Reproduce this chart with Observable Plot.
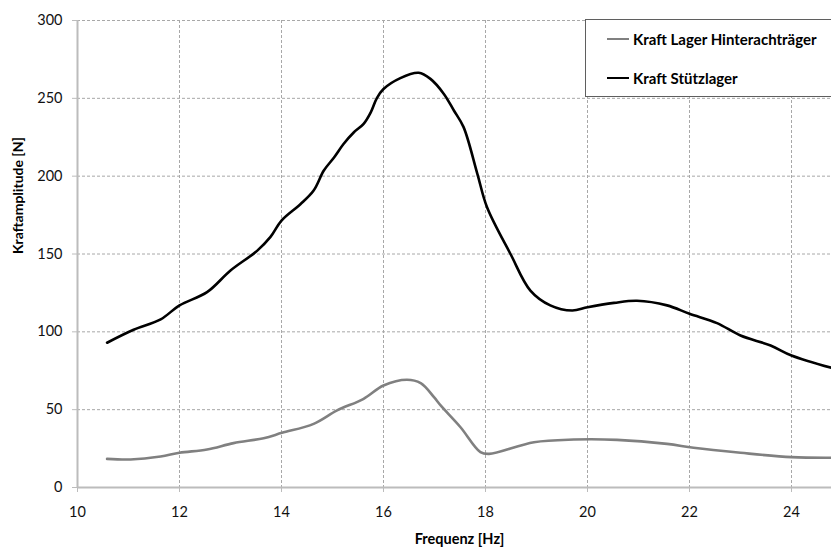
<!DOCTYPE html>
<html>
<head>
<meta charset="utf-8">
<script src="https://cdn.jsdelivr.net/npm/d3@7"></script>
<script src="https://cdn.jsdelivr.net/npm/@observablehq/plot@0.6"></script>
<style>
  html, body { margin: 0; padding: 0; background: #fff; overflow: hidden; }
  #chart { position: relative; width: 831px; height: 552px; font-family: Lato, "Open Sans", sans-serif; }
  #chart svg { display: block; }
  .legend {
    position: absolute; left: 585px; top: 19px; width: 270px; height: 78px;
    box-sizing: border-box; border: 1px solid #5f5f5f; background: #fff;
    font: bold 15px Lato, "Open Sans", sans-serif; color: #000;
  }
  .legend .item { position: absolute; left: 21px; height: 18px; display: flex; align-items: center; }
  .legend .swatch { width: 22px; height: 0; margin-right: 4px; }
</style>
</head>
<body>
<div id="chart"></div>
<script>
// Frequency sweep: force amplitude at the two bearings
const freqStuetz = [10.58, 11.10, 11.63, 12.0, 12.54, 13.0, 13.52, 13.78, 14.0, 14.37, 14.63, 14.83, 15.03, 15.22, 15.42, 15.61, 15.75, 15.87, 16.0, 16.33, 16.69, 16.92, 17.18, 17.38, 17.57, 17.84, 18.03, 18.49, 18.88, 19.27, 19.70, 20.0, 20.52, 20.97, 21.56, 22.0, 22.54, 23.0, 23.59, 24.0, 24.78];
const kraftStuetz = [93, 101.3, 108, 117, 125.5, 139.4, 152, 160.8, 171.5, 182, 190.8, 203.6, 212, 220.8, 228.2, 233.6, 241, 250.2, 256, 263, 266.4, 262.5, 253, 242.2, 231.5, 201.5, 180, 150, 126.5, 117, 113.7, 115.8, 118.6, 120, 117, 111.6, 105.6, 97.6, 91.2, 84.8, 76.9];

const freqHinter = [10.58, 11.04, 11.63, 12.0, 12.54, 13.06, 13.65, 14.01, 14.63, 15.09, 15.61, 16.0, 16.46, 16.73, 16.99, 17.12, 17.51, 17.90, 18.07, 18.95, 19.73, 20.58, 21.56, 22.08, 23.0, 24.0, 24.76];
const kraftHinter = [18.4, 18, 19.9, 22.3, 24.4, 28.5, 31.7, 35.1, 40.9, 49.5, 57, 65.5, 69.2, 67, 58, 52.7, 38.7, 22.7, 21.6, 29.1, 30.8, 30.6, 28, 25.5, 22.3, 19.5, 19.1];

const seriesNames = ["Kraft Lager Hinterachträger", "Kraft Stützlager"];
const seriesColors = ["#808080", "#000000"];

const xTicks = [10, 12, 14, 16, 18, 20, 22, 24];
const yTicks = [0, 50, 100, 150, 200, 250, 300];
const xLabel = "Frequenz [Hz]";
const yLabel = "Kraftamplitude [N]";

const hinter = freqHinter.map((f, i) => ({f, v: kraftHinter[i]}));
const stuetz = freqStuetz.map((f, i) => ({f, v: kraftStuetz[i]}));

const gridStyle = {stroke: "#a8a8a8", strokeOpacity: 1, strokeDasharray: "3,2"};
const axisColor = "#bcbcbc";

const chart = Plot.plot({
  width: 831,
  height: 552,
  marginLeft: 77,
  marginRight: 0,
  marginTop: 20,
  marginBottom: 65,
  style: {fontFamily: "Lato, 'Open Sans', sans-serif", fontSize: "14px", color: "#111", background: "#fff"},
  x: {domain: [10, 24.784]},
  y: {domain: [0, 300]},
  marks: [
    Plot.gridX(xTicks.slice(1), gridStyle),
    Plot.gridY(yTicks.slice(1), gridStyle),
    Plot.ruleX([xTicks[0]], {stroke: axisColor, strokeWidth: 2}),
    Plot.ruleY([yTicks[0]], {stroke: axisColor, strokeWidth: 2}),
    Plot.axisX(xTicks, {tickSize: 5, tickPadding: 14, label: null, stroke: axisColor, fontSize: 14.5}),
    Plot.axisY(yTicks, {tickSize: 5, tickPadding: 10, label: null, stroke: axisColor, fontSize: 14.5}),
    Plot.line(hinter, {x: "f", y: "v", stroke: seriesColors[0], strokeWidth: 2.6, curve: "catmull-rom"}),
    Plot.line(stuetz, {x: "f", y: "v", stroke: seriesColors[1], strokeWidth: 2.6, curve: "catmull-rom"}),
    Plot.text([xLabel], {frameAnchor: "bottom", dx: 5, dy: 56, fontWeight: "bold", fontSize: 14.5, fill: "#000"}),
    Plot.text([yLabel], {frameAnchor: "left", dx: -59, rotate: -90, fontWeight: "bold", fontSize: 14, fill: "#000"})
  ]
});

const host = document.getElementById("chart");
host.appendChild(chart);

// legend box in the upper right corner
const legend = document.createElement("div");
legend.className = "legend";
seriesNames.forEach((name, i) => {
  const item = document.createElement("div");
  item.className = "item";
  item.style.top = (i === 0 ? 10 : 49) + "px";
  const sw = document.createElement("span");
  sw.className = "swatch";
  sw.style.borderTop = "2.6px solid " + seriesColors[i];
  const label = document.createElement("span");
  label.textContent = name;
  item.appendChild(sw);
  item.appendChild(label);
  legend.appendChild(item);
});
host.appendChild(legend);
</script>
</body>
</html>
